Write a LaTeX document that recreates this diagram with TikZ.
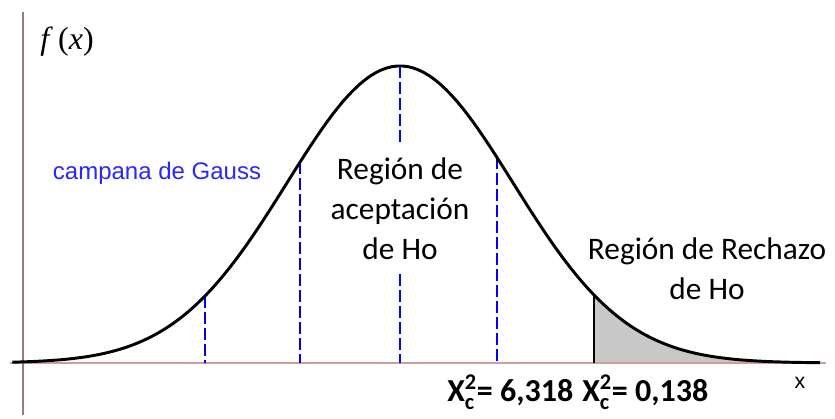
\documentclass[tikz,border=0pt]{standalone}
\usepackage{fontspec}
\setmainfont{Carlito}
\newfontfamily\arialfont{Liberation Sans}
\newfontfamily\timesfont{Liberation Serif}
\usetikzlibrary{calc}
\definecolor{haxiscol}{RGB}{205,160,160}
\definecolor{vaxiscol}{RGB}{150,125,125}
\definecolor{tailgray}{RGB}{200,200,200}
\definecolor{gaussblue}{RGB}{40,40,250}
\tikzset{
  gcurve/.style = {line width=2.2pt,line join=round},
  guide/.style = {blue,line width=1.1pt,dash pattern=on 9pt off 3pt},
  label/.style = {inner sep=0pt,font=\fontsize{23.5}{30}\selectfont,align=center},
  chilabel/.style = {inner sep=0pt,anchor=west,font=\fontsize{24}{28}\selectfont\bfseries},
}

\begin{document}
\begin{tikzpicture}[x=0.75pt,y=-0.75pt]
  \pgfmathsetmacro{\gmean}{400};
  \pgfmathsetmacro{\gsig}{113};
  \pgfmathsetmacro{\gpeak}{297};
  \pgfmathsetmacro{\gbase}{363};
  \pgfmathsetmacro{\tcrit}{1.717};
  \pgfmathsetmacro{\tend}{3.72};
  \useasboundingbox (0,0) rectangle (835,418);
  % rejection tail
  \fill[tailgray] plot[domain=\tcrit:\tend,samples=60] ({\gmean+\gsig*\x},{\gbase-\gpeak*exp(-0.5*\x*\x)})
    -- ({\gmean+\gsig*\tend},\gbase) -- ({\gmean+\gsig*\tcrit},\gbase) -- cycle;
  % axes
  \draw[haxiscol,line width=1.5pt] (10,\gbase) -- (826,\gbase);
  \draw[vaxiscol,line width=1.5pt] (23,12) -- (23,415);
  % guide lines
  \foreach \t in {-1.726,-0.885,0,0.858} {%
    \draw[guide] ({\gmean+\gsig*\t},{\gbase-\gpeak*exp(-0.5*\t*\t)}) -- ({\gmean+\gsig*\t},\gbase);
  }
  \draw[line width=1.2pt] ({\gmean+\gsig*\tcrit},{\gbase-\gpeak*exp(-0.5*\tcrit*\tcrit)}) coordinate (C) -- ({\gmean+\gsig*\tcrit},\gbase) coordinate (C0);
  % bell
  \draw[gcurve] plot[domain=-3.43:\tend,samples=150] ({\gmean+\gsig*\x},{\gbase-\gpeak*exp(-0.5*\x*\x)});
  % labels
  \node[inner sep=0pt,font=\timesfont\fontsize{24}{28}\selectfont] (fx) at (67,42) {\textit{f}\,(\textit{x})};
  \node[inner sep=0pt,text=gaussblue,font=\arialfont\fontsize{18}{22}\selectfont] (gauss) at (157,173) {campana de Gauss};
  \node[label,fill=white,inner xsep=4pt,inner ysep=9pt] (accept) at (400,209) {Región de\\aceptación\\de Ho};
  \node[label] (reject) at (707,269) {Región de Rechazo\\de Ho};
  \node[chilabel] (chione) at (447,392) {$\mathbf{X}^{\mathbf{2}}_{\mathbf{c}}$= 6,318};
  \node[chilabel] (chitwo) at (582,392) {$\mathbf{X}^{\mathbf{2}}_{\mathbf{c}}$= 0,138};
  \node[inner sep=0pt,font=\arialfont\fontsize{16}{18}\selectfont] (xlab) at (800,383) {x};
\end{tikzpicture}
\end{document}
